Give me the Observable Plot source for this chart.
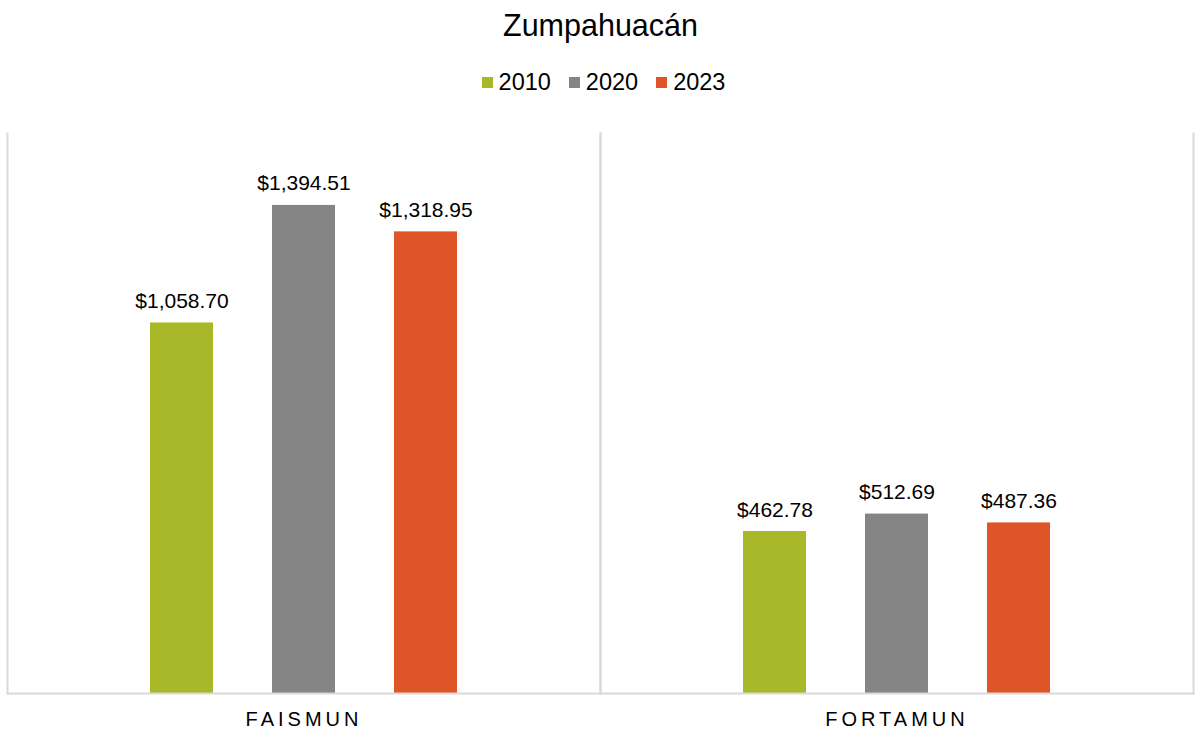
<!DOCTYPE html>
<html>
<head>
<meta charset="utf-8">
<script src="https://cdn.jsdelivr.net/npm/d3@7"></script>
<script src="https://cdn.jsdelivr.net/npm/@observablehq/plot@0.6"></script>
<style>
  html, body { margin: 0; padding: 0; background: #fff; }
  body { width: 1195px; height: 729px; position: relative; overflow: hidden;
         font-family: "Liberation Sans", Arial, sans-serif; color: #000; }
  #title { position: absolute; left: 0; width: 1195px; top: 10px; text-align: center;
           font-size: 30.5px; line-height: 30px; padding-left: 6px; box-sizing: border-box; }
  #legend { position: absolute; left: 0; width: 1195px; top: 71px; height: 22px;
            display: flex; justify-content: center; align-items: center;
            font-size: 23.5px; line-height: 22px; padding-left: 12px; box-sizing: border-box; }
  .item { display: flex; align-items: center; margin: 0 9px; }
  .sw { width: 11px; height: 11px; margin-right: 6px; margin-top: 1px; }
  #chart { position: absolute; left: 0; top: 110px; }
  g[aria-label="fx-axis tick label"] text { letter-spacing: 4px; }
</style>
</head>
<body>
<div id="title">Zumpahuacán</div>
<div id="legend"></div>
<div id="chart"></div>
<script>
const categories = ["FAISMUN", "FORTAMUN"];
const years = ["2010", "2020", "2023"];
const values2010 = [1058.70, 462.78];
const values2020 = [1394.51, 512.69];
const values2023 = [1318.95, 487.36];
const colors = ["#A8B828", "#858585", "#E05528"];

const series = [values2010, values2020, values2023];
const rows = [];
categories.forEach((c, i) => {
  years.forEach((y, j) => rows.push({category: c, year: y, value: series[j][i]}));
});

const legend = document.getElementById("legend");
years.forEach((y, j) => {
  const it = document.createElement("div");
  it.className = "item";
  it.innerHTML = `<div class="sw" style="background:${colors[j]}"></div><span>${y}</span>`;
  legend.appendChild(it);
});

const fmt = d3.format(",.2f");
const grid = "#d9d9d9";

const chart = Plot.plot({
  width: 1195,
  height: 619,
  marginTop: 23,
  marginBottom: 36,
  marginLeft: 7,
  marginRight: 2,
  style: {fontFamily: "'Liberation Sans', Arial, sans-serif", color: "#000", background: "#fff"},
  fx: {domain: categories, paddingInner: 0, paddingOuter: 0},
  x: {domain: years, paddingInner: 0.4836, paddingOuter: 1.172, axis: null},
  y: {domain: [0, 1600], axis: null},
  color: {domain: years, range: colors},
  marks: [
    Plot.frame({anchor: "left", stroke: grid, strokeWidth: 2}),
    Plot.frame({anchor: "right", stroke: grid, strokeWidth: 2}),
    Plot.barY(rows, {fx: "category", x: "year", y: "value", fill: "year"}),
    Plot.frame({anchor: "bottom", stroke: grid, strokeWidth: 2}),
    Plot.text(rows, {fx: "category", x: "year", y: "value",
      text: d => "$" + fmt(d.value), lineAnchor: "bottom", dy: -15,
      fontSize: 21, fill: "#000"}),
    Plot.axisFx({anchor: "bottom", tickSize: 0, tickPadding: 18, fontSize: 20, label: null})
  ]
});
document.getElementById("chart").appendChild(chart);
</script>
</body>
</html>
